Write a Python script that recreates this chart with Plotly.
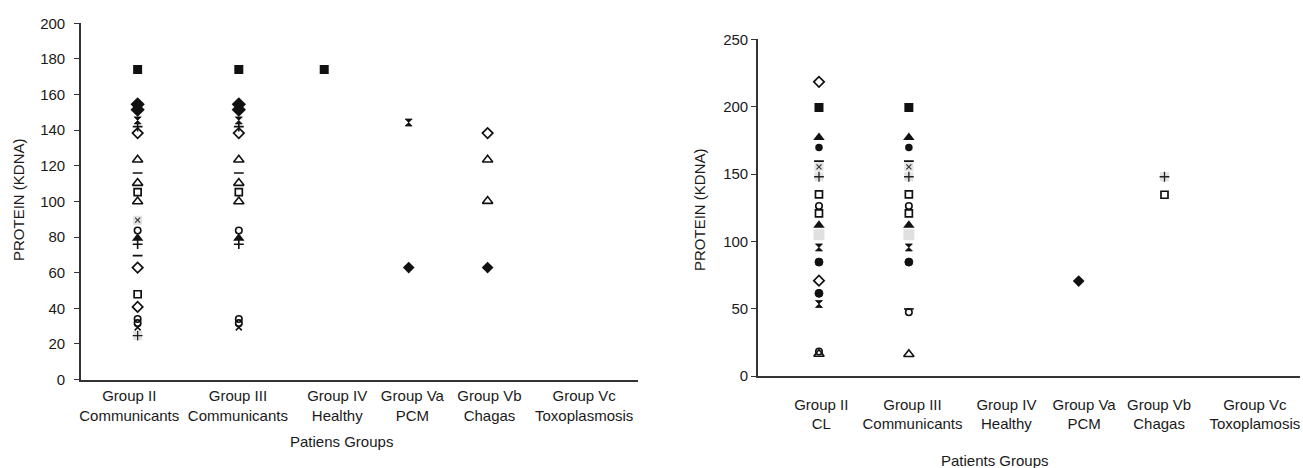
import plotly.graph_objects as go

N = None

# ---------------- categories ----------------
GROUPS_LEFT = ["Group II<br>Communicants", "Group III<br>Communicants", "Group IV<br>Healthy",
               "Group Va<br>PCM", "Group Vb<br>Chagas", "Group Vc<br>Toxoplasmosis"]
GROUPS_RIGHT = ["Group II<br>CL", "Group III<br>Communicants", "Group IV<br>Healthy",
                "Group Va<br>PCM", "Group Vb<br>Chagas", "Group Vc<br>Toxoplamosis"]

# ---------------- left panel: protein bands (kDa) per group ----------------
L01 = [174, 174, 174, N, N, N]
L02 = [154.5, 154.5, N, N, N, N]
L03 = [151.5, 151.5, N, N, N, N]
L04 = [145.5, 145.5, N, 144.3, N, N]
L05 = [142, 142, N, N, N, N]
L06 = [138.4, 138.4, N, N, 138.4, N]
L07 = [123.4, 123.4, N, N, 123.4, N]
L08 = [116, 116, N, N, N, N]
L09 = [110.3, 110.3, N, N, N, N]
L10 = [105.2, 105.2, N, N, N, N]
L11 = [100, 100, N, N, 100.2, N]
L12 = [89.5, N, N, N, N, N]
L13 = [83.7, 83.7, N, N, N, N]
L14 = [79.4, 79.4, N, N, N, N]
L15 = [76, 76, N, N, N, N]
L16 = [69.6, N, N, N, N, N]
L17 = [62.9, N, N, N, N, N]
L18 = [N, N, N, 62.9, 62.9, N]
L19 = [47.9, N, N, N, N, N]
L20 = [40.8, N, N, N, N, N]
L21 = [34, 34, N, N, N, N]
L22 = [31.7, 31.7, N, N, N, N]
L23 = [29.3, 29.3, N, N, N, N]
L24 = [24.7, N, N, N, N, N]

# ---------------- right panel: protein bands (kDa) per group ----------------
R01 = [218.5, N, N, N, N, N]
R02 = [199.5, 199.5, N, N, N, N]
R03 = [177.2, 177.2, N, N, N, N]
R04 = [169.8, 169.8, N, N, N, N]
R05 = [159.6, 159.6, N, N, N, N]
R06 = [155.4, 155.4, N, N, N, N]
R07 = [148, 148, N, N, 148, N]
R08 = [134.9, 134.9, N, N, 134.6, N]
R09 = [126.3, 126.3, N, N, N, N]
R10 = [120.8, 120.8, N, N, N, N]
R11 = [112, 112, N, N, N, N]
R12 = [105, 105, N, N, N, N]
R13 = [95.5, 95.5, N, N, N, N]
R14 = [84.6, 84.6, N, N, N, N]
R15 = [70.8, N, N, N, N, N]
R16 = [61.4, N, N, N, N, N]
R17 = [53.5, N, N, N, N, N]
R18 = [N, N, N, 70.5, N, N]
R19 = [N, 47.3, N, N, N, N]
R20 = [N, 49.8, N, N, N, N]
R21 = [16.3, 16.1, N, N, N, N]
R22 = [18.2, N, N, N, N, N]

LEFT_SERIES = [L01, L02, L03, L04, L05, L06, L07, L08, L09, L10, L11, L12,
               L13, L14, L15, L16, L17, L18, L19, L20, L21, L22, L23, L24]
RIGHT_SERIES = [R01, R02, R03, R04, R05, R06, R07, R08, R09, R10, R11,
                R12, R13, R14, R15, R16, R17, R18, R19, R20, R21, R22]

# ---------------- layout / style (kept apart from data) ----------------
# category positions on a 0..6 axis (groups are not evenly spaced in the original)
GROUP_X_LEFT = [0.61, 1.70, 2.62, 3.53, 4.38, 5.42]
LABEL_X_LEFT = [0.52, 1.69, 2.76, 3.57, 4.40, 5.42]
GROUP_X_RIGHT = [0.675, 1.67, 2.75, 3.55, 4.50, 5.50]
LABEL_X_RIGHT = [0.70, 1.71, 2.75, 3.61, 4.44, 5.50]

LEFT_STYLE = ["sqf", "dif", "dif", "hg", "plus", "dio", "trio", "dash", "trio", "sqo", "trio", "xg",
              "cio", "trif", "plus", "dash", "dio", "difs", "sqo", "dio", "cio", "cio", "x", "plusg"]
RIGHT_STYLE = ["dio", "sqf", "trif", "cif", "dash", "xg", "plusg", "sqo", "cio", "sqo", "trif",
               "graysq", "hg", "halfci", "dio", "halfci", "hg", "difs", "cio", "dash", "trio", "cio"]

K = "#111111"
STYLES = {
    "sqf": [dict(symbol="square", size=9, color=K)],
    "dif": [dict(symbol="diamond", size=11, color=K)],
    "difs": [dict(symbol="diamond", size=9, color=K)],
    "hg": [dict(symbol="hourglass", size=7, color=K, line=dict(width=0.8, color=K))],
    "plus": [dict(symbol="cross-thin", size=7, color=K, line=dict(width=1.6, color=K))],
    "dio": [dict(symbol="diamond-open", size=8, color=K, line=dict(width=1.7))],
    "trio": [dict(symbol="triangle-up-open", size=9, color=K, line=dict(width=1.6))],
    "trif": [dict(symbol="triangle-up", size=10, color=K)],
    "dash": [dict(symbol="line-ew", size=7, color=K, line=dict(width=1.6, color=K))],
    "sqo": [dict(symbol="square-open", size=7, color=K, line=dict(width=1.7))],
    "cio": [dict(symbol="circle-open", size=6.5, color=K, line=dict(width=1.6))],
    "cif": [dict(symbol="circle", size=7.5, color=K)],
    "x": [dict(symbol="x-thin", size=6, color=K, line=dict(width=1.5, color=K))],
    "xg": [dict(symbol="square", size=9, color="#e2e2e2"),
           dict(symbol="x-thin", size=5, color="#333", line=dict(width=1.1, color="#333"))],
    "plusg": [dict(symbol="square", size=9, color="#e2e2e2"),
              dict(symbol="cross-thin", size=7, color="#222", line=dict(width=1.3, color="#222"))],
    "graysq": [dict(symbol="square", size=11, color="#e0e0e0")],
    "halfci": [dict(symbol="circle", size=8, color=K, line=dict(width=1, color=K))],
}

FONT = "Liberation Sans, Arial, Helvetica, sans-serif"
TXT = "#1a1a1a"
W, H = 1303, 468

fig = go.Figure()


def add_panel(series_list, style_list, xpos, xa, ya):
    for values, style in zip(series_list, style_list):
        xs = [xpos[i] for i, v in enumerate(values) if v is not None]
        ys = [v for v in values if v is not None]
        for mk in STYLES[style]:
            fig.add_trace(go.Scatter(x=xs, y=ys, mode="markers", marker=mk,
                                     xaxis=xa, yaxis=ya, showlegend=False,
                                     hoverinfo="y"))


add_panel(LEFT_SERIES, LEFT_STYLE, GROUP_X_LEFT, "x", "y")
add_panel(RIGHT_SERIES, RIGHT_STYLE, GROUP_X_RIGHT, "x2", "y2")

axis_common = dict(showline=True, linecolor="#333333", linewidth=1.6, showgrid=False,
                   zeroline=False, automargin=False,
                   tickfont=dict(family=FONT, size=15, color=TXT))

fig.update_layout(
    template="none",
    width=W, height=H, autosize=False,
    margin=dict(l=0, r=0, t=0, b=0, pad=0),
    paper_bgcolor="white", plot_bgcolor="white",
    font=dict(family=FONT, color=TXT),
    xaxis=dict(domain=[81 / W, 638 / W], range=[0, 6], anchor="y",
               tickmode="array", tickvals=LABEL_X_LEFT, ticktext=GROUPS_LEFT,
               ticks="", ticklabelstandoff=2, **axis_common),
    yaxis=dict(domain=[(H - 379.6) / H, (H - 23.3) / H], range=[0, 200], anchor="x",
               tick0=0, dtick=20, ticks="outside", ticklen=5, tickwidth=1.3,
               tickcolor="#333333", ticklabelstandoff=6, **axis_common),
    xaxis2=dict(domain=[758 / W, 1300 / W], range=[0, 6], anchor="y2",
                tickmode="array", tickvals=LABEL_X_RIGHT, ticktext=GROUPS_RIGHT,
                ticks="", ticklabelstandoff=14, **axis_common),
    yaxis2=dict(domain=[(H - 376) / H, (H - 39.4) / H], range=[0, 250], anchor="x2",
                tick0=0, dtick=50, ticks="outside", ticklen=5, tickwidth=1.3,
                tickcolor="#333333", ticklabelstandoff=0, **axis_common),
    annotations=[
        dict(text="PROTEIN (KDNA)", xref="paper", yref="paper", x=18 / W, y=(H - 200) / H,
             textangle=-90, showarrow=False, xanchor="center", yanchor="middle",
             font=dict(family=FONT, size=15, color=TXT)),
        dict(text="PROTEIN (KDNA)", xref="paper", yref="paper", x=700 / W, y=(H - 210) / H,
             textangle=-90, showarrow=False, xanchor="center", yanchor="middle",
             font=dict(family=FONT, size=15, color=TXT)),
        dict(text="Patiens Groups", xref="paper", yref="paper", x=342 / W, y=(H - 441) / H,
             showarrow=False, xanchor="center", yanchor="middle",
             font=dict(family=FONT, size=15, color=TXT)),
        dict(text="Patients Groups", xref="paper", yref="paper", x=995 / W, y=(H - 460) / H,
             showarrow=False, xanchor="center", yanchor="middle",
             font=dict(family=FONT, size=15, color=TXT)),
    ],
)

fig.write_html(
    "out.html",
    config={"responsive": False, "displayModeBar": False},
    post_script="document.body.style.margin='0';document.body.style.overflow='hidden';",
)
